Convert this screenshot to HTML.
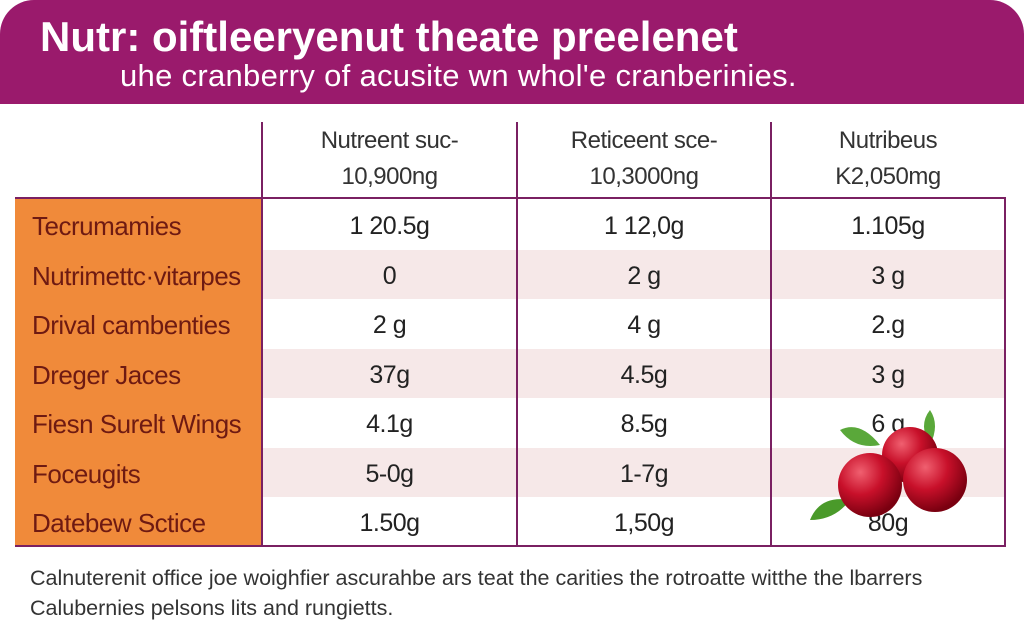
<!DOCTYPE html>
<html><head><meta charset="utf-8"><style>
body{margin:0;width:1024px;height:632px;background:#fff;position:relative;overflow:hidden;font-family:"Liberation Sans",sans-serif}
.abs{position:absolute}
#hdr{left:0;top:0;width:1024px;height:104px;background:#9a1a6c;border-radius:34px 34px 0 0}
#title{left:40px;top:13px;color:#fff;font-weight:bold;font-size:42px;letter-spacing:0px;white-space:nowrap}
#sub{left:120px;top:58px;color:#fff;font-size:31px;letter-spacing:0.3px;white-space:nowrap}
.vl{width:2px;background:#7a2062;top:122px;height:425px}
.hl{height:2px;background:#7a2062}
.cell{text-align:center;font-size:25px;color:#222;white-space:nowrap;letter-spacing:-0.5px}
.lbl{left:32px;font-size:26px;color:#6e1a12;white-space:nowrap;letter-spacing:-0.5px}
.hd{text-align:center;font-size:24px;color:#333;line-height:36px;letter-spacing:-0.5px}
.ft{left:30px;font-size:21.5px;color:#333;white-space:nowrap;letter-spacing:0px}
</style></head><body>
<div id="hdr" class="abs"></div>
<div id="title" class="abs">Nutr: oiftleeryenut theate preelenet</div>
<div id="sub" class="abs">uhe cranberry of acusite wn whol'e cranberinies.</div>

<div class="abs" style="left:15px;top:198px;width:247px;height:348px;background:#f08a3a"></div>
<div class="abs" style="left:262px;top:250px;width:743px;height:49px;background:#f6e8e8"></div>
<div class="abs" style="left:262px;top:349px;width:743px;height:49px;background:#f6e8e8"></div>
<div class="abs" style="left:262px;top:448px;width:743px;height:49px;background:#f6e8e8"></div>

<div class="abs hl" style="left:15px;top:197px;width:991px"></div>
<div class="abs hl" style="left:15px;top:545px;width:991px"></div>
<div class="abs vl" style="left:261px"></div>
<div class="abs vl" style="left:516px"></div>
<div class="abs vl" style="left:770px"></div>
<div class="abs vl" style="left:1004px;top:198px;height:349px"></div>

<div class="abs hd" style="left:262px;top:123px;width:255px">Nutreent suc-<br>10,900ng</div>
<div class="abs hd" style="left:517px;top:123px;width:254px">Reticeent sce-<br>10,3000ng</div>
<div class="abs hd" style="left:771px;top:123px;width:234px">Nutribeus<br>K2,050mg</div>

<div id="rows"></div>

<svg class="abs" style="left:800px;top:400px" width="180" height="130">
<defs><radialGradient id="g" cx="0.35" cy="0.3" r="0.7"><stop offset="0" stop-color="#f06070"/><stop offset="0.5" stop-color="#c8102a"/><stop offset="1" stop-color="#7a0010"/></radialGradient></defs>
<path d="M40 30 Q60 20 80 45 Q55 50 40 30Z" fill="#5aa83a"/>
<path d="M130 10 Q140 25 130 45 Q118 25 130 10Z" fill="#5aa83a"/>
<path d="M10 120 Q20 95 50 100 Q35 120 10 120Z" fill="#4a9a2a"/>
<circle cx="110" cy="55" r="28" fill="url(#g)"/>
<circle cx="70" cy="85" r="32" fill="url(#g)"/>
<circle cx="135" cy="80" r="32" fill="url(#g)"/>
</svg>

<div class="abs ft" style="top:566px">Calnuterenit office joe woighfier ascurahbe ars teat the carities the rotroatte witthe the lbarrers</div>
<div class="abs ft" style="top:596px">Calubernies pelsons lits and rungietts.</div>

<script>
const labels=["Tecrumamies","Nutrimettc·vitarpes","Drival cambenties","Dreger Jaces","Fiesn Surelt Wings","Foceugits","Datebew Sctice"];
const col1=["1 20.5g","0","2 g","37g","4.1g","5-0g","1.50g"];
const col2=["1 12,0g","2 g","4 g","4.5g","8.5g","1-7g","1,50g"];
const col3=["1.105g","3 g","2.g","3 g","6 g","","80g"];
const rows=document.getElementById('rows');
const cols=[[262,255,col1],[517,254,col2],[771,234,col3]];
labels.forEach((l,i)=>{
  const top=198+i*49.5+13;
  const d=document.createElement('div');
  d.className='abs lbl';d.style.top=top+'px';d.textContent=l;
  
  
  rows.appendChild(d);
  cols.forEach(([x,w,arr])=>{
    const c=document.createElement('div');
    c.className='abs cell';c.style.left=x+'px';c.style.width=w+'px';c.style.top=(top+1)+'px';c.textContent=arr[i];
    
    
    rows.appendChild(c);
  });
});
</script>
</body></html>
